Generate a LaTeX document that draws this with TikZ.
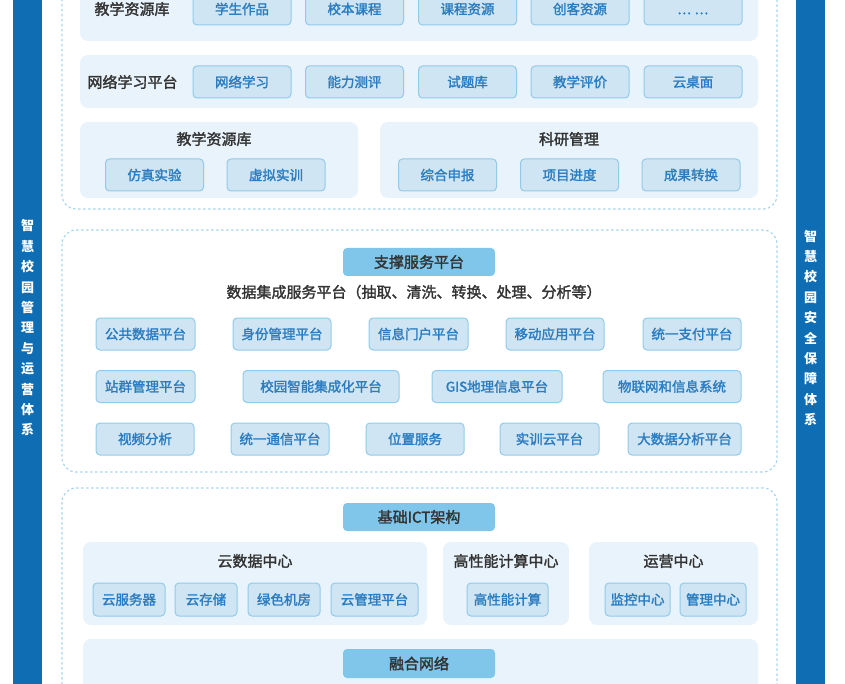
\documentclass[tikz,border=0pt]{standalone}
\usepackage{fontspec}
\setmainfont{Noto Sans CJK SC}
\newfontfamily\medfont{Noto Sans CJK SC}[FakeBold=1.8]
\definecolor{barblue}{HTML}{0F6DB4}
\definecolor{panelbg}{HTML}{E8F3FB}
\definecolor{itembg}{HTML}{CFE5F3}
\definecolor{itemline}{HTML}{92CBEA}
\definecolor{itemtext}{HTML}{2B7CC0}
\definecolor{headbg}{HTML}{7FC6EA}
\definecolor{dashline}{HTML}{A9D6EF}
\definecolor{titletext}{HTML}{333333}
\tikzset{
	item/.style={draw=itemline, fill=itembg, rounded corners=4, line width=1, minimum height=32, inner sep=0, text=itemtext, font=\fontsize{13.5}{14}\selectfont\medfont},
	header/.style={fill=headbg, rounded corners=4, minimum width=152, minimum height=28, inner sep=0, text=titletext, font=\fontsize{15}{16}\selectfont\medfont},
	panel/.style={fill=panelbg, rounded corners=8},
	dashbox/.style={draw=dashline, line width=1.2, dash pattern=on 2.5 off 2.5, rounded corners=14},
	title/.style={text=titletext, font=\fontsize{15}{16}\selectfont\medfont, inner sep=0},
	bartext/.style={text=white, align=center, font=\fontsize{13}{20.4}\selectfont\bfseries, inner sep=0}
}

\begin{document}
\begin{tikzpicture}[x=1pt, y=-1pt]
			\useasboundingbox (0,0) rectangle (845,684);
			\clip (0,0) rectangle (845,684);
			%%%%% SIDE BARS %%%%%
			\fill[barblue] (13,0) rectangle (42,684);
			\fill[barblue] (796,0) rectangle (825,684);
			\node[bartext] (mgmt) at (27.5,328) {智\\慧\\校\\园\\管\\理\\与\\运\\营\\体\\系};
			\node[bartext] (safe) at (810.5,328) {智\\慧\\校\\园\\安\\全\\保\\障\\体\\系};
			
			%%%%% APPLICATION LAYER %%%%%
			\draw[dashbox] (62,-30) rectangle (777,209);
			\fill[panel] (80,-15) rectangle (758,41);
			\fill[panel] (80,55) rectangle (758,108);
			\fill[panel] (80,122) rectangle (358,198);
			\fill[panel] (380,122) rectangle (758,198);
			
			\node[title] (res) at (132,9) {教学资源库};
			\node[item, minimum width=98] (works) at (242,9) {学生作品};
			\node[item, minimum width=98] (school) at (354.5,9) {校本课程};
			\node[item, minimum width=98] (course) at (467.5,9) {课程资源};
			\node[item, minimum width=98] (maker) at (580,9) {创客资源};
			\node[item, minimum width=98] (more) at (693,9) {\vphantom{学}.\kern1pt.\kern1pt.\kern4pt.\kern1pt.\kern1pt.};
			
			\node[title] (online) at (132.5,82) {网络学习平台};
			\node[item, minimum width=98] (learn) at (242,82) {网络学习};
			\node[item, minimum width=98] (ability) at (354.5,82) {能力测评};
			\node[item, minimum width=98] (bank) at (467.5,82) {试题库};
			\node[item, minimum width=98] (evaluate) at (580,82) {教学评价};
			\node[item, minimum width=98] (desktop) at (693,82) {云桌面};
			
			\node[title] (res2) at (214,139) {教学资源库};
			\node[item, minimum width=98] (simu) at (154.5,175) {仿真实验};
			\node[item, minimum width=98] (virtual) at (276,175) {虚拟实训};
			\node[title] (research) at (569,139) {科研管理};
			\node[item, minimum width=98] (declare) at (447.5,175) {综合申报};
			\node[item, minimum width=98] (progress) at (569.5,175) {项目进度};
			\node[item, minimum width=98] (transfer) at (691,175) {成果转换};
			
			%%%%% SUPPORT LAYER %%%%%
			\draw[dashbox] (62,230) rectangle (777,472);
			\node[header] (support) at (419,262) {支撑服务平台};
			\node[title] (integrate) at (414,292) {数据集成服务平台（抽取、清洗、转换、处理、分析等）};
			
			\node[item, minimum width=99] (public) at (145.5,334) {公共数据平台};
			\node[item, minimum width=98] (identity) at (282,334) {身份管理平台};
			\node[item, minimum width=99] (portal) at (418.5,334) {信息门户平台};
			\node[item, minimum width=98] (mobile) at (555,334) {移动应用平台};
			\node[item, minimum width=98] (pay) at (692,334) {统一支付平台};
			
			\node[item, minimum width=99] (sites) at (145.5,386.5) {站群管理平台};
			\node[item, minimum width=156] (smart) at (321,386.5) {校园智能集成化平台};
			\node[item, minimum width=130] (gis) at (497,386.5) {GIS地理信息平台};
			\node[item, minimum width=138] (iot) at (672,386.5) {物联网和信息系统};
			
			\node[item, minimum width=98] (video) at (145,439) {视频分析};
			\node[item, minimum width=98] (comm) at (280,439) {统一通信平台};
			\node[item, minimum width=98] (locate) at (415,439) {位置服务};
			\node[item, minimum width=99] (train) at (549.5,439) {实训云平台};
			\node[item, minimum width=113] (bigdata) at (684.5,439) {大数据分析平台};
			
			%%%%% ICT LAYER %%%%%
			\draw[dashbox] (62,488) rectangle (777,720);
			\node[header] (ict) at (419,517) {基础ICT架构};
			\fill[panel] (83,542) rectangle (427,625);
			\fill[panel] (443,542) rectangle (569,625);
			\fill[panel] (589,542) rectangle (758,625);
			\fill[panel] (83,639) rectangle (758,720);
			
			\node[title] (cloud) at (255,561) {云数据中心};
			\node[item, minimum width=72, minimum height=33] (server) at (129,599.5) {云服务器};
			\node[item, minimum width=62, minimum height=33] (storage) at (206,599.5) {云存储};
			\node[item, minimum width=72, minimum height=33] (room) at (284,599.5) {绿色机房};
			\node[item, minimum width=87, minimum height=33] (cloudmgmt) at (374.5,599.5) {云管理平台};
			
			\node[title] (hpc) at (506,561) {高性能计算中心};
			\node[item, minimum width=81, minimum height=33] (compute) at (507.5,599.5) {高性能计算};
			
			\node[title] (ops) at (673.5,561) {运营中心};
			\node[item, minimum width=65, minimum height=33] (monitor) at (637.5,599.5) {监控中心};
			\node[item, minimum width=66, minimum height=33] (manage) at (713,599.5) {管理中心};
			
			\node[header, minimum height=29] (network) at (419,663.5) {融合网络};
			%%%%% END %%%%%
\end{tikzpicture}
\end{document}
